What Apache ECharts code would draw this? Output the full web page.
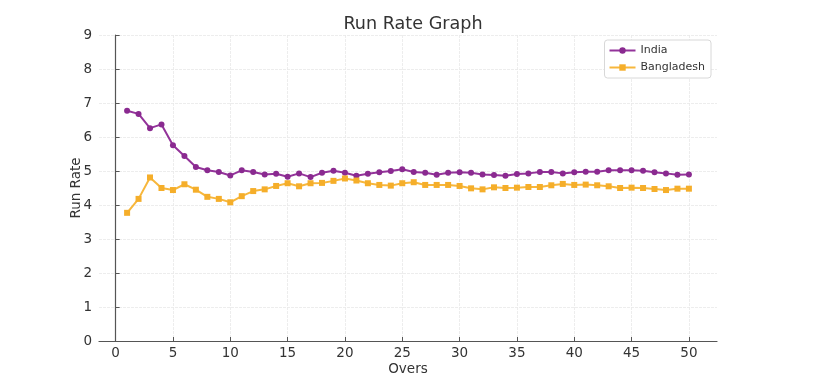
<!DOCTYPE html>
<html>
<head>
<meta charset="utf-8">
<script src="https://cdn.jsdelivr.net/npm/echarts@6/dist/echarts.min.js"></script>
<style>
html,body{margin:0;padding:0;background:#fff;}
#chart{width:813px;height:391px;}
</style>
</head>
<body>
<div id="chart"></div>
<script>
var overs = [];
for (var i = 1; i <= 50; i++) overs.push(i);
var india = [6.77,6.68,6.26,6.37,5.76,5.44,5.12,5.02,4.97,4.87,
             5.02,4.97,4.90,4.92,4.83,4.93,4.82,4.95,5.01,4.95,
             4.86,4.92,4.96,5.00,5.05,4.97,4.95,4.89,4.95,4.96,
             4.95,4.90,4.88,4.86,4.91,4.93,4.97,4.97,4.93,4.96,
             4.98,4.98,5.02,5.02,5.02,5.01,4.96,4.93,4.89,4.90];
var bangladesh = [3.77,4.18,4.81,4.50,4.44,4.61,4.45,4.24,4.18,4.08,
                  4.26,4.41,4.46,4.56,4.64,4.55,4.64,4.65,4.71,4.78,
                  4.72,4.64,4.59,4.57,4.64,4.67,4.59,4.59,4.59,4.56,
                  4.49,4.46,4.52,4.50,4.51,4.53,4.53,4.58,4.62,4.59,
                  4.60,4.58,4.55,4.50,4.51,4.50,4.47,4.44,4.48,4.48];
var xTicks = [0,5,10,15,20,25,30,35,40,45,50];
var yTicks = [0,1,2,3,4,5,6,7,8,9];

var font = 'DejaVu Sans';
var chart = echarts.init(document.getElementById('chart'));
chart.setOption({
  animation: false,
  backgroundColor: '#fff',
  title: {
    text: 'Run Rate Graph', left: 408, top: 10, textAlign: 'center',
    textStyle: {fontFamily: font, fontSize: 17.6, fontWeight: 'normal', color: '#333'}
  },
  legend: {
    orient: 'vertical', right: 102, top: 40,
    backgroundColor: '#fff', borderColor: '#d8d8d8', borderWidth: 1, borderRadius: 3,
    padding: [5, 6, 5, 4], itemGap: 6, itemWidth: 26, itemHeight: 8,
    textStyle: {fontFamily: font, fontSize: 11, color: '#333'},
    data: ['India', 'Bangladesh']
  },
  grid: {left: 99, right: 96, top: 35, bottom: 50, containLabel: false},
  xAxis: {
    type: 'value', min: -1.45, max: 52.45,
    name: 'Overs', nameLocation: 'middle', nameGap: 21, nameMoveOverlap: false,
    nameTextStyle: {fontFamily: font, fontSize: 13.5, color: '#333'},
    axisLine: {show: true, onZero: false, lineStyle: {color: '#555', width: 1.2}},
    axisTick: {show: true, inside: true, length: 4, customValues: xTicks, lineStyle: {color: '#555'}},
    axisLabel: {fontFamily: font, fontSize: 13.5, color: '#333', margin: 5, customValues: xTicks},
    splitLine: {show: true, lineStyle: {color: '#e8e8e8', width: 0.8, type: [3, 1]}}
  },
  yAxis: {
    type: 'value', min: 0, max: 9, interval: 1,
    name: 'Run Rate', nameLocation: 'middle', nameGap: 16, nameMoveOverlap: false,
    nameTextStyle: {fontFamily: font, fontSize: 13.5, color: '#333'},
    axisLine: {show: true, lineStyle: {color: '#555', width: 1.2}},
    axisTick: {show: true, inside: true, length: 4, lineStyle: {color: '#555'}},
    axisLabel: {fontFamily: font, fontSize: 13.5, color: '#333', margin: 7},
    splitLine: {show: true, lineStyle: {color: '#e8e8e8', width: 0.8, type: [3, 1]}}
  },
  series: [
    {
      name: 'India', type: 'line',
      data: overs.map(function (o, k) { return [o, india[k]]; }),
      symbol: 'circle', symbolSize: 6, showAllSymbol: true,
      color: '#93339a',
      lineStyle: {width: 2, color: '#93339a'},
      itemStyle: {color: '#8a2a90'}
    },
    {
      name: 'Bangladesh', type: 'line',
      data: overs.map(function (o, k) { return [o, bangladesh[k]]; }),
      symbol: 'rect', symbolSize: 6, showAllSymbol: true,
      color: '#f7b73c',
      lineStyle: {width: 2, color: '#f7b73c'},
      itemStyle: {color: '#f5ae2a'}
    }
  ]
});
</script>
</body>
</html>
